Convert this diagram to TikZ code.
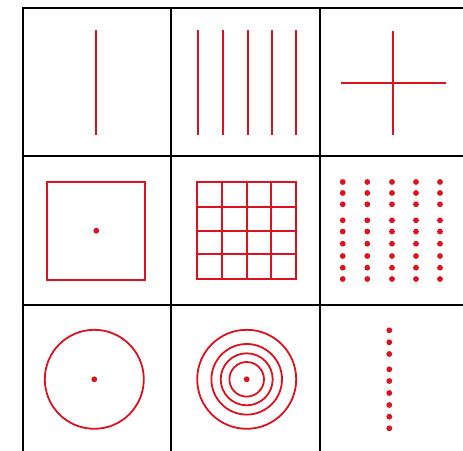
\documentclass[tikz,border=0pt]{standalone}
\definecolor{figred}{RGB}{222,18,30}
\tikzset{
  gridline/.style={line width=2pt, black},
  redline/.style={line width=1.8pt, figred},
  reddot/.style={fill=figred, draw=none}
}
\begin{document}
\begin{tikzpicture}[x=1pt,y=-1pt]
\useasboundingbox (0,0) rectangle (463,450);
\fill[white] (0,0) rectangle (463,450);
% grid
\foreach \x in {22.5,171,319.5} \draw[gridline] (\x,7) -- (\x,452);
\foreach \y in {8,156,304.5} \draw[gridline] (21.5,\y) -- (465,\y);
% cell 1
\draw[redline] (96,30) -- (96,135);
% cell 2
\foreach \x in {198.3,223.3,247.7,272,296} \draw[redline] (\x,30) -- (\x,135);
% cell 3
\draw[redline] (393.3,31) -- (393.3,135);
\draw[redline] (341,82.7) -- (445.7,82.7);
% cell 4
\draw[redline] (46.7,181.7) rectangle (145,280);
\fill[reddot] (96.3,230.7) circle (2.9);
% cell 5
\draw[redline] (196.7,181.7) rectangle (295.7,279);
\foreach \x in {221.7,247,271} \draw[redline] (\x,181.7) -- (\x,279);
\foreach \y in {206.7,231,254.3} \draw[redline] (196.7,\y) -- (295.7,\y);
% cell 6
\foreach \x in {342.7,367.3,392,416,440}
  \foreach \y in {182,193,204.3,220.3,231.5,243.7,256,267.7,279}
    \fill[reddot] (\x,\y) circle (2.9);
% cell 7
\draw[redline] (94.3,379.3) circle (49.5);
\fill[reddot] (94.3,379.3) circle (2.9);
% cell 8
\foreach \r in {49.5,35.3,26,17.3} \draw[redline] (246.7,379.3) circle (\r);
\fill[reddot] (246.7,379.3) circle (2.9);
% cell 9
\foreach \y in {330.3,342.3,354,369.3,381,393,405,416.7,428.3}
  \fill[reddot] (389.3,\y) circle (2.9);
\end{tikzpicture}
\end{document}
